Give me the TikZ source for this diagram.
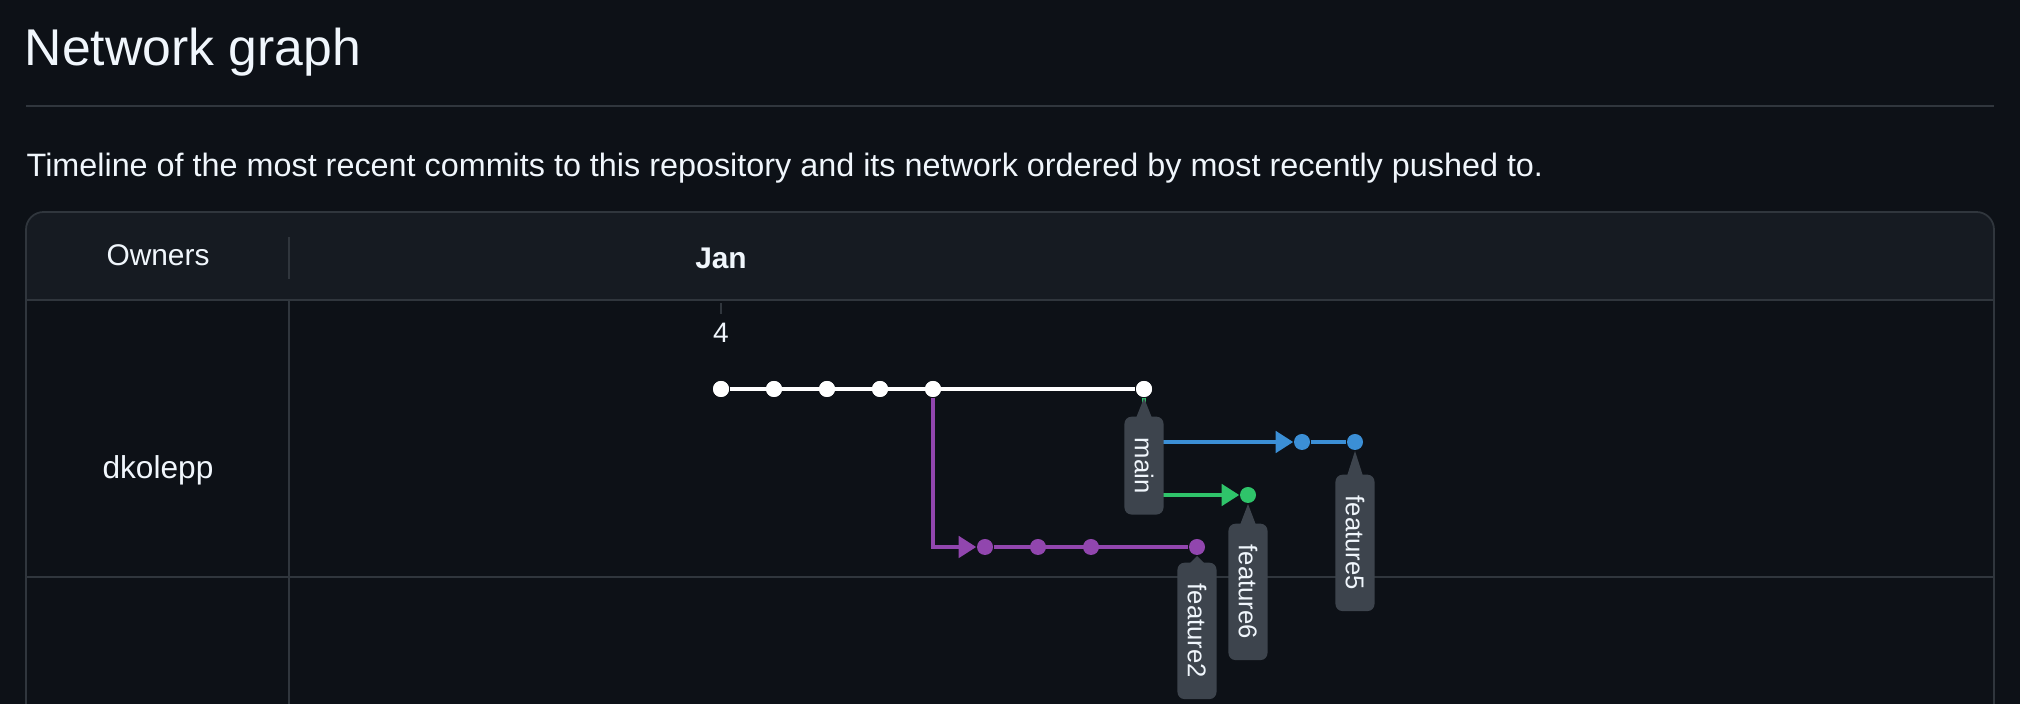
\documentclass[tikz,border=0pt]{standalone}
\usepackage{fontspec}
\setmainfont{Liberation Sans}
\usetikzlibrary{arrows.meta,positioning,calc}
\definecolor{pagebg}{HTML}{0D1117}
\definecolor{headbg}{HTML}{161B22}
\definecolor{rulegray}{HTML}{30363D}
\definecolor{labelbg}{HTML}{3D444D}
\definecolor{textwhite}{HTML}{F0F6FC}
\definecolor{branchblue}{HTML}{3B8FD6}
\definecolor{branchgreen}{HTML}{2FC46A}
\definecolor{branchpurple}{HTML}{9146AE}

\begin{document}
\begin{tikzpicture}[x=0.01cm,y=-0.01cm,
    every node/.style={text=textwhite,inner sep=0pt},
    commit/.style={circle,fill=#1,minimum size=0.16cm,inner sep=0pt},
    branchline/.style={draw=#1,line width=1.2pt},
    reflabel/.style={fill=labelbg,rounded corners=2pt,rotate=-90,anchor=west,
      inner xsep=6pt,inner ysep=0pt,font=\fontsize{7.3}{8}\selectfont,minimum height=0.39cm}]
    \fill[pagebg] (0,0) rectangle (2020,704);
    \useasboundingbox (0,0) rectangle (2020,704);
    % heading
    \node[anchor=west,font=\fontsize{14.7}{18}\selectfont] (title) at (24,52) {Network graph};
    \draw[rulegray,line width=0.4pt] (26,106) -- (1994,106);
    \node[anchor=west,font=\fontsize{9.2}{11}\selectfont] (intro) at (26,168) {Timeline of the most recent commits to this repository and its network ordered by most recently pushed to.};
    % table
    \fill[headbg,rounded corners=5pt] (26,212) rectangle (1994,300);
    \fill[headbg] (26,260) rectangle (1994,300);
    \draw[rulegray,line width=0.5pt,rounded corners=5pt] (26,720) -- (26,212) -- (1994,212) -- (1994,720);
    \draw[rulegray,line width=0.5pt] (26,300) -- (1994,300);
    \draw[rulegray,line width=0.5pt] (26,577) -- (1994,577);
    \draw[rulegray,line width=0.5pt] (289,237) -- (289,279);
    \draw[rulegray,line width=0.5pt] (289,300) -- (289,704);
    \node[font=\fontsize{8.5}{10}\selectfont] (owners) at (158,255) {Owners};
    \node[font=\fontsize{8.5}{10}\selectfont\bfseries] (jan) at (721,258) {Jan};
    \draw[rulegray,line width=0.6pt] (721,303) -- (721,314);
    \node[font=\fontsize{8}{10}\selectfont] (day) at (721,333) {4};
    \node[font=\fontsize{9}{11}\selectfont] (owner) at (158,470) {dkolepp};
    % commits
    \foreach \n/\x in {c1/721,c2/774,c3/827,c4/880,c5/933,c6/1144}
      \node[commit=white] (\n) at (\x,389) {};
    \foreach \n/\x in {b1/1302,b2/1355}
      \node[commit=branchblue] (\n) at (\x,442) {};
    \node[commit=branchgreen] (g1) at (1248,495) {};
    \foreach \n/\x in {p1/985,p2/1038,p3/1091,p4/1197}
      \node[commit=branchpurple] (\n) at (\x,547) {};
    % branches
    \draw[branchline=white] (c1) -- (c6);
    \draw[branchline=branchblue,-{Triangle[length=5pt,width=6pt]}] (c6) |- (b1);
    \draw[branchline=branchblue] (b1) -- (b2);
    \draw[branchline=branchgreen,-{Triangle[length=5pt,width=6pt]}] (c6) |- (g1);
    \draw[branchline=branchpurple,-{Triangle[length=5pt,width=6pt]}] (c5) |- (p1);
    \draw[branchline=branchpurple] (p1) -- (p4);
    \foreach \n in {c1,c2,c3,c4,c5,c6} \node[commit=white] at (\n) {};
    % refs
    \foreach \c/\t/\y in {c6/main/416,b2/feature5/474,g1/feature6/523,p4/feature2/562} {
      \node[reflabel] (ref-\t) at (\c |- 0,\y) {\t};
      \fill[labelbg] ($(\c)+(0,9)$) -- ($(ref-\t.west)+(-8,2)$) -- ($(ref-\t.west)+(8,2)$) -- cycle;
    }
  \end{tikzpicture}
\end{document}
